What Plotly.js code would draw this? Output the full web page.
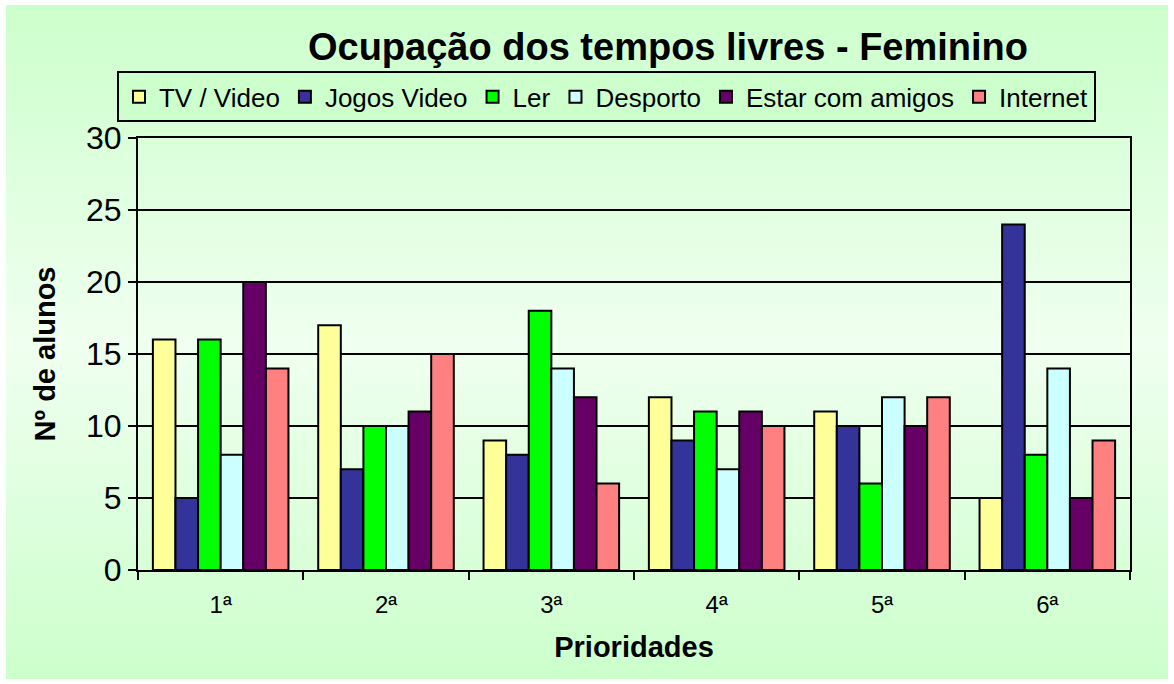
<!DOCTYPE html>
<html>
<head>
<meta charset="utf-8">
<script src="https://cdn.plot.ly/plotly-3.0.1.min.js"></script>
<style>
html,body{margin:0;padding:0;background:#ffffff;}
#bg{position:absolute;left:6px;top:5px;width:1162px;height:674px;
background:linear-gradient(to bottom,#ccffcc 0%,#f0fff0 50%,#ccffcc 100%);}
#chart{position:absolute;left:0;top:0;width:1174px;height:684px;}
</style>
</head>
<body>
<div id="bg"></div>
<div id="chart"></div>
<script>
const categories = ["1ª","2ª","3ª","4ª","5ª","6ª"];
const seriesNames = ["TV / Video","Jogos Video","Ler","Desporto","Estar com amigos","Internet"];
const tvVideo = [16,17,9,12,11,5];
const jogosVideo = [5,7,8,9,10,24];
const ler = [16,10,18,11,6,8];
const desporto = [8,10,14,7,12,14];
const estarComAmigos = [20,11,12,11,10,5];
const internet = [14,15,6,10,12,9];
const colors = ["#ffff99","#333399","#00ff00","#ccffff","#660066","#ff8080"];

const values = [tvVideo,jogosVideo,ler,desporto,estarComAmigos,internet];
const traces = values.map((v,i)=>({
  type:"bar", x:categories, y:v, name:seriesNames[i],
  marker:{color:colors[i], line:{color:"#000000", width:2}},
  hoverinfo:"y+name"
}));

const FONT = "Liberation Sans, Arial, sans-serif";
const layout = {
  width:1174, height:684,
  paper_bgcolor:"rgba(0,0,0,0)", plot_bgcolor:"rgba(0,0,0,0)",
  margin:{l:138, r:44, t:138, b:114, autoexpand:false},
  barmode:"group", bargap:0.18, bargroupgap:0,
  font:{family:FONT, color:"#000000"},
  title:{text:"<b>Ocupação dos tempos livres - Feminino</b>", font:{size:38, family:FONT},
    x:0.569, xanchor:"center", y:0.931, yanchor:"middle"},
  showlegend:true,
  legend:{orientation:"h", x:-0.0212, xanchor:"left", y:1.095, yanchor:"middle",
    bgcolor:"#ccffcc", bordercolor:"#000000", borderwidth:2,
    font:{size:26, family:FONT}, traceorder:"normal", itemwidth:30},
  xaxis:{type:"category", showline:true, linecolor:"#000000", linewidth:2, mirror:true,
    ticks:"outside", tickson:"boundaries", ticklen:8, tickwidth:2, tickcolor:"#000000",
    tickfont:{size:24}, showgrid:false, ticklabelstandoff:12,
    title:{text:"<b>Prioridades</b>", font:{size:29}, standoff:20}},
  yaxis:{range:[0,30], dtick:5, showline:true, linecolor:"#000000", linewidth:2, mirror:true,
    ticks:"outside", ticklen:8, tickwidth:2, tickcolor:"#000000",
    showgrid:true, gridcolor:"#000000", gridwidth:2, zeroline:false,
    tickfont:{size:32},
    title:{text:"<b>Nº de alunos</b>", font:{size:29}, standoff:22}}
};
Plotly.newPlot("chart", traces, layout, {displayModeBar:false, staticPlot:true});
</script>
</body>
</html>
